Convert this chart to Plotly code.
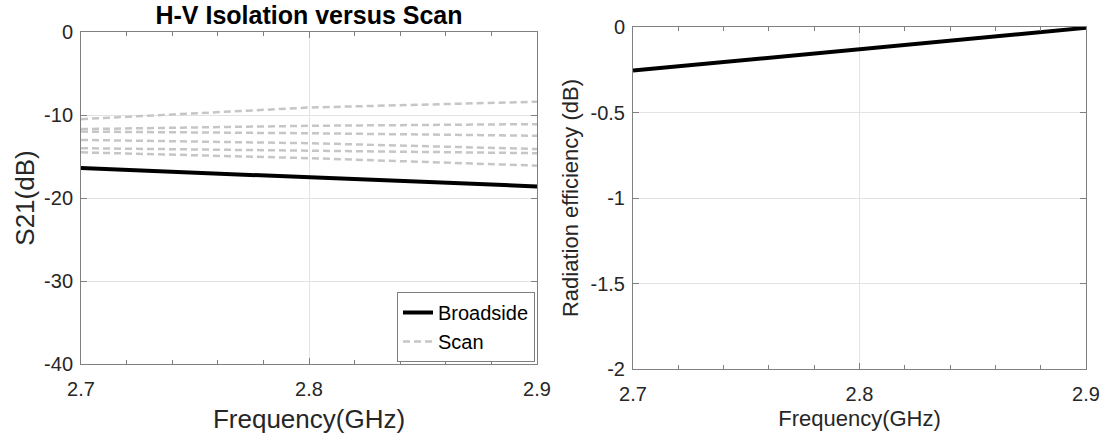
import plotly.graph_objects as go

freq = [2.7, 2.8, 2.9]

broadside_s21 = [-16.4, -17.5, -18.6]
scan_s21 = [
    [-10.5, -9.1, -8.4],
    [-11.7, -11.3, -11.1],
    [-12.0, -12.2, -12.5],
    [-13.0, -13.4, -14.1],
    [-14.0, -14.3, -14.6],
    [-14.5, -15.2, -16.1],
]
rad_eff = [-0.255, -0.13, -0.005]

x_ticks = [2.7, 2.8, 2.9]
x_ticktext = ["2.7", "2.8", "2.9"]
y1_ticks = [0, -10, -20, -30, -40]
y1_ticktext = ["0", "-10", "-20", "-30", "-40"]
y2_ticks = [0, -0.5, -1, -1.5, -2]
y2_ticktext = ["0", "-0.5", "-1", "-1.5", "-2"]

FONT = "Liberation Sans, Arial, sans-serif"
TXT = "#262626"
AX = "#808080"
GRID = "#e3e3e3"

fig = go.Figure()

fig.add_trace(go.Scatter(x=freq, y=broadside_s21, mode="lines", name="Broadside",
                         line=dict(color="black", width=4), xaxis="x", yaxis="y"))
for i, s in enumerate(scan_s21):
    fig.add_trace(go.Scatter(x=freq, y=s, mode="lines", name="Scan",
                             showlegend=(i == 0), legendgroup="scan",
                             line=dict(color="#c6c6c6", width=2.5, dash="7px,4px"),
                             xaxis="x", yaxis="y"))

fig.add_trace(go.Scatter(x=freq, y=rad_eff, mode="lines", name="eff", showlegend=False,
                         line=dict(color="black", width=4), xaxis="x2", yaxis="y2"))

def xax(domain, anchor, title_size, standoff):
    return dict(domain=domain, anchor=anchor, range=[2.7, 2.9], automargin=False,
                tickvals=x_ticks, ticktext=x_ticktext,
                ticks="inside", ticklen=6, tickcolor=AX, tickwidth=1,
                ticklabelstandoff=7,
                minor=dict(dtick=0.02, tick0=2.7, ticks="inside", ticklen=4, tickcolor=AX, showgrid=False),
                showline=True, linecolor=AX, linewidth=1, mirror="allticks",
                showgrid=True, gridcolor=GRID, gridwidth=1, zeroline=False,
                tickfont=dict(family=FONT, size=20, color=TXT),
                title=dict(text="Frequency(GHz)", font=dict(family=FONT, size=title_size, color=TXT), standoff=standoff))

def yax(domain, anchor, rng, tv, tt, title, title_size, standoff):
    return dict(domain=domain, anchor=anchor, range=rng, automargin=False,
                tickvals=tv, ticktext=tt,
                ticks="inside", ticklen=6, tickcolor=AX, tickwidth=1,
                ticklabelstandoff=3,
                showline=True, linecolor=AX, linewidth=1, mirror="allticks",
                showgrid=True, gridcolor=GRID, gridwidth=1, zeroline=False,
                tickfont=dict(family=FONT, size=20, color=TXT),
                title=dict(text=title, font=dict(family=FONT, size=title_size, color=TXT), standoff=standoff))

fig.update_layout(
    width=1108, height=440,
    margin=dict(l=0, r=0, t=0, b=0),
    paper_bgcolor="white", plot_bgcolor="white",
    xaxis=xax([81 / 1108, 537 / 1108], "y", 26, 10),
    yaxis=yax([1 - 364 / 440, 1 - 32 / 440], "x", [-40, 0], y1_ticks, y1_ticktext, "S21(dB)", 26, 1),
    xaxis2=xax([633 / 1108, 1086 / 1108], "y2", 22, 6),
    yaxis2=yax([1 - 369 / 440, 1 - 27 / 440], "x2", [-2, 0], y2_ticks, y2_ticktext, "Radiation efficiency (dB)", 22, 5),
    title=dict(text="<b>H-V Isolation versus Scan</b>", font=dict(family=FONT, size=25, color="black"),
               x=309 / 1108, xanchor="center", y=1 - 15 / 440, yanchor="middle"),
    legend=dict(x=535 / 1108, xanchor="right", y=1 - 362 / 440, yanchor="bottom",
                bgcolor="white", bordercolor=AX, borderwidth=1,
                font=dict(family=FONT, size=20, color="black"),
                tracegroupgap=0, itemwidth=30),
    showlegend=True,
)

fig.write_html("out.html")
